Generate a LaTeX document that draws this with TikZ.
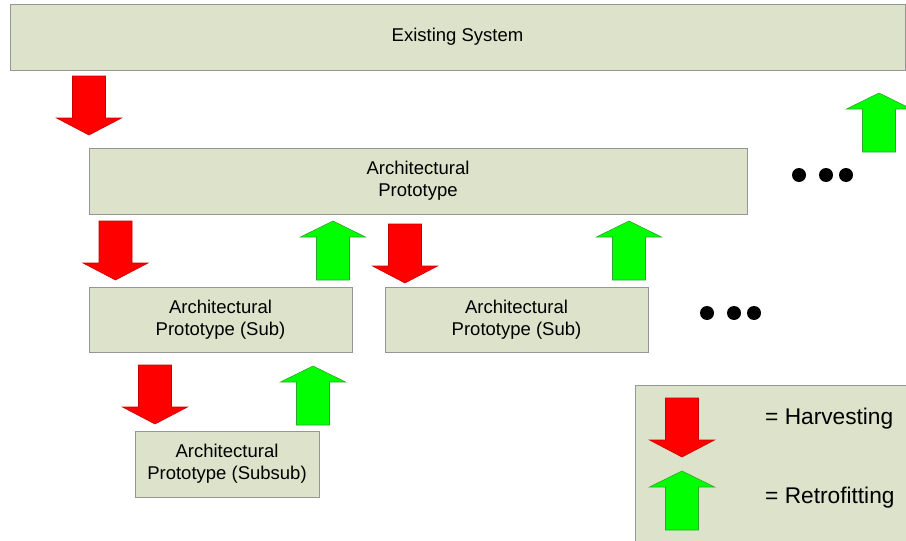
\documentclass[tikz,border=0pt]{standalone}
\usepackage{fontspec}
\setmainfont{Liberation Sans}
\definecolor{boxfill}{RGB}{221,226,202}
\definecolor{boxline}{RGB}{150,150,150}
\definecolor{hred}{RGB}{255,0,0}
\definecolor{hredline}{RGB}{200,0,0}
\definecolor{rgreen}{RGB}{0,255,0}
\definecolor{rgreenline}{RGB}{40,170,40}
\begin{document}
\begin{tikzpicture}[x=1pt,y=-1pt,
  box/.style={draw=boxline,fill=boxfill,line width=1pt,inner sep=0pt,align=center,
    font=\fontsize{18.5}{22}\selectfont},
  harvfill/.style={fill=hred,draw=hredline,line width=0.6pt,line join=miter},
  retrofill/.style={fill=rgreen,draw=rgreenline,line width=0.6pt,line join=miter},
  harv/.pic={\draw[harvfill] (-16.5,0) -- (16.5,0) -- (16.5,42) -- (32.5,42) -- (0,59)
      -- (-32.5,42) -- (-16.5,42) -- cycle;},
  retro/.pic={\draw[retrofill] (0,0) -- (32.5,16) -- (16.5,16) -- (16.5,59) -- (-16.5,59)
      -- (-16.5,16) -- (-32.5,16) -- cycle;},
  dot/.style={fill=black},
  legtext/.style={anchor=west,inner sep=0pt,font=\fontsize{22.7}{27}\selectfont}]
\useasboundingbox (0,0) rectangle (906,541);

% boxes
\node[box,minimum width=895,minimum height=66] (es) at (457.5,37) {Existing System};
\node[box,minimum width=658,minimum height=66] (ap) at (418,181) {Architectural\\Prototype};
\node[box,minimum width=263,minimum height=65] (sub1) at (220.5,319.5) {Architectural\\Prototype (Sub)};
\node[box,minimum width=263,minimum height=65] (sub2) at (516.5,319.5) {Architectural\\Prototype (Sub)};
\node[box,minimum width=184,minimum height=66] (subsub) at (227,464) {Architectural\\Prototype (Subsub)};
\node[box,minimum width=275,minimum height=160] (legend) at (772.5,465) {};

% harvesting arrows
\pic at (89,76) {harv};
\pic at (115.5,221) {harv};
\pic at (405,224) {harv};
\pic at (155,365) {harv};
\pic at (682,398) {harv};

% retrofitting arrows
\pic at (879,93) {retro};
\pic at (333,221) {retro};
\pic at (629,221) {retro};
\pic at (313,366) {retro};
\pic at (682,471) {retro};

% ellipsis dots
\fill[dot] (799,175) circle (7);
\fill[dot] (826,175) circle (7);
\fill[dot] (846,175) circle (7);
\fill[dot] (707,313) circle (7);
\fill[dot] (734,313) circle (7);
\fill[dot] (754,313) circle (7);

% legend text
\node[legtext] (lh) at (765,418.5) {= Harvesting};
\node[legtext] (lr) at (765,497.5) {= Retrofitting};
\end{tikzpicture}
\end{document}
